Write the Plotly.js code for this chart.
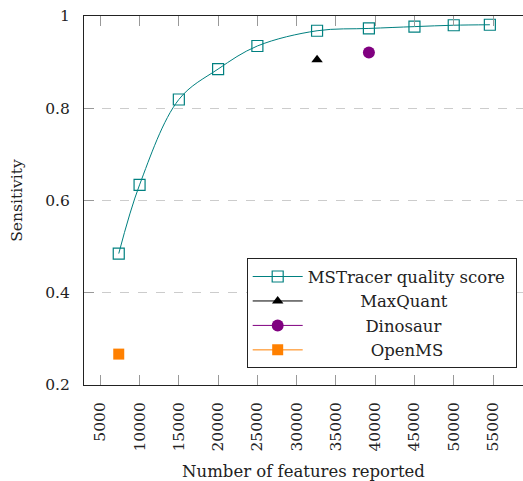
<!DOCTYPE html>
<html>
<head>
<meta charset="utf-8">
<script src="https://cdn.plot.ly/plotly-3.0.1.min.js"></script>
<style>html,body{margin:0;padding:0;background:#fff}#chart{width:523px;height:481px}</style>
</head>
<body>
<div id="chart"></div>
<script>
// MSTracer quality score series
const msX = [7350, 10000, 15000, 20000, 25000, 32600, 39200, 45000, 50000, 54600];
const msY = [0.485, 0.634, 0.819, 0.885, 0.935, 0.968, 0.973, 0.977, 0.980, 0.981];
// Other tools (single points)
const mqX = [32600]; const mqY = [0.905];
const dinoX = [39200]; const dinoY = [0.921];
const omsX = [7350]; const omsY = [0.267];

const seriesNames = ["MSTracer quality score", "MaxQuant", "Dinosaur", "OpenMS"];
const xTicks = [5000, 10000, 15000, 20000, 25000, 30000, 35000, 40000, 45000, 50000, 55000];
const yTicks = [0.2, 0.4, 0.6, 0.8, 1];
const yTickText = ["0.2", "0.4", "0.6", "0.8", "1"];

const FONT = "DejaVu Serif";
const FS = 15.5;
const LFS = 16.5;
const pad = (s, n, m) => "\u00a0".repeat(n) + s + "\u00a0".repeat(m || 0);

const traces = [
  {x: msX, y: msY, name: pad(seriesNames[0], 0, 1), mode: "lines+markers", legendgroup: "a",
   line: {color: "#008080", width: 1, shape: "spline", smoothing: 1},
   marker: {symbol: "square-open", size: 11, color: "#008080", line: {width: 1.2}}},
  {x: mqX, y: mqY, name: pad(seriesNames[1], 10), mode: "lines+markers", legendgroup: "b",
   line: {color: "#000000", width: 1},
   marker: {symbol: "triangle-up", size: 10, color: "#000000"}},
  {x: dinoX, y: dinoY, name: pad(seriesNames[2], 11), mode: "lines+markers", legendgroup: "c",
   line: {color: "#800080", width: 1},
   marker: {symbol: "circle", size: 12, color: "#800080"}},
  {x: omsX, y: omsY, name: pad(seriesNames[3], 12), mode: "lines+markers", legendgroup: "d",
   line: {color: "#ff8000", width: 1},
   marker: {symbol: "square", size: 11, color: "#ff8000"}}
];

const layout = {
  width: 523, height: 481,
  margin: {l: 84, r: 0, t: 16, b: 96},
  paper_bgcolor: "#fff", plot_bgcolor: "#fff",
  font: {family: FONT, size: FS, color: "#222"},
  showlegend: true,
  legend: {x: 0.3706, y: 0.3434, xanchor: "left", yanchor: "top",
    bgcolor: "#fff", bordercolor: "#222", borderwidth: 1, itemwidth: 50,
    font: {family: FONT, size: LFS, color: "#222"}, tracegroupgap: 8,
    traceorder: "normal"},
  xaxis: {range: [2925, 58820], tickvals: xTicks, ticktext: xTicks.map(String),
    tickangle: -90, ticks: "inside", ticklen: 10, tickcolor: "#999", tickwidth: 1,
    showline: true, linecolor: "#222", linewidth: 1, mirror: "ticks",
    showgrid: false, zeroline: false, ticklabelstandoff: 10, automargin: false,
    title: {text: "Number of features reported", font: {family: FONT, size: LFS}, standoff: 24}},
  yaxis: {range: [0.2, 1], tickvals: yTicks, ticktext: yTickText,
    ticks: "inside", ticklen: 10, tickcolor: "#999", tickwidth: 1,
    showline: true, linecolor: "#222", linewidth: 1, automargin: false,
    showgrid: true, gridcolor: "#ccc", griddash: "dash", gridwidth: 1, zeroline: false,
    ticklabelstandoff: 10,
    title: {text: "Sensitivity", font: {family: FONT, size: FS}, standoff: 18}}
};

Plotly.newPlot("chart", traces, layout, {displayModeBar: false, staticPlot: true});
</script>
</body>
</html>
